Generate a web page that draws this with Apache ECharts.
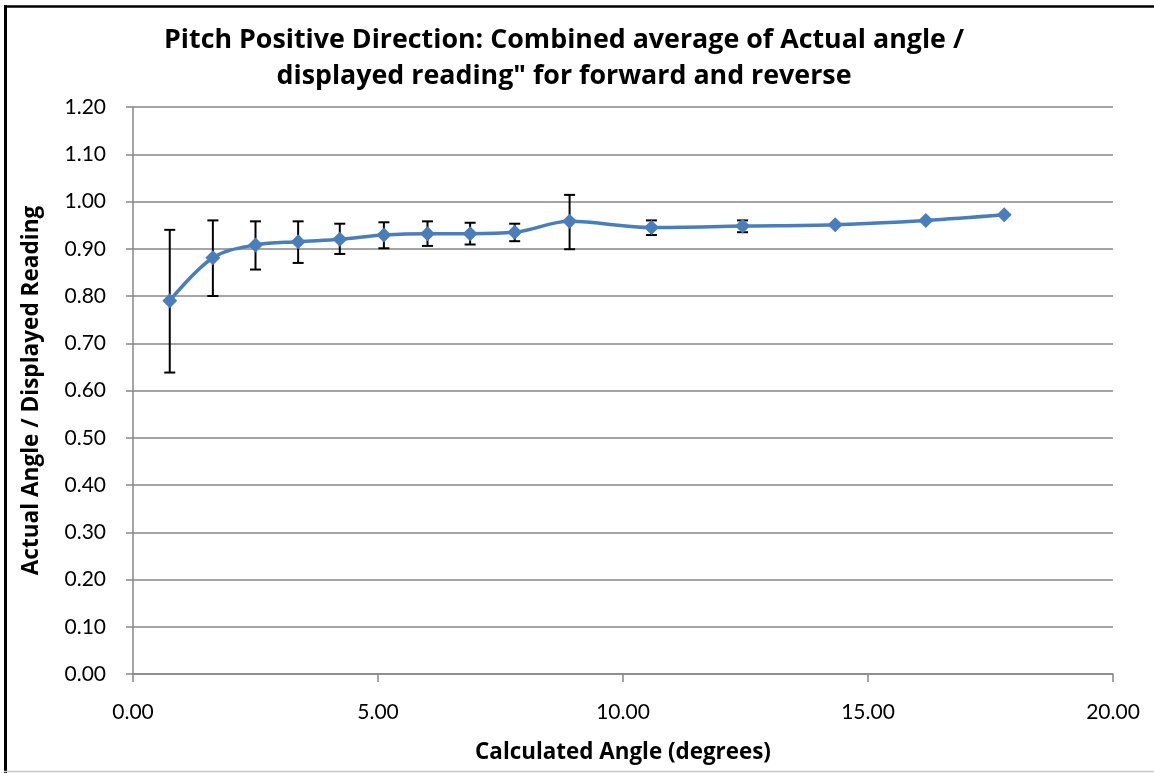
<!DOCTYPE html>
<html>
<head>
<meta charset="utf-8">
<script src="https://cdn.jsdelivr.net/npm/echarts@6/dist/echarts.min.js"></script>
<style>
  html, body { margin: 0; padding: 0; background: #ffffff; }
  #chart { width: 1154px; height: 773px; }
</style>
</head>
<body>
<div id="chart"></div>
<script>
// Calculated angle (degrees) for each measurement position
const calculatedAngle = [0.75, 1.63, 2.50, 3.37, 4.22, 5.12, 6.01, 6.88, 7.79, 8.91, 10.58, 12.44, 14.33, 16.18, 17.78];
// Combined average of actual angle / displayed reading
const ratioMean = [0.790, 0.881, 0.908, 0.915, 0.920, 0.929, 0.932, 0.932, 0.935, 0.958, 0.945, 0.948, 0.951, 0.960, 0.972];
// Error bar extents (null where no bar is drawn)
const ratioLow  = [0.638, 0.800, 0.856, 0.870, 0.889, 0.901, 0.906, 0.909, 0.916, 0.899, 0.929, 0.935, null, null, null];
const ratioHigh = [0.940, 0.960, 0.958, 0.958, 0.953, 0.956, 0.958, 0.955, 0.953, 1.014, 0.960, 0.960, null, null, null];

const titleLines = 'Pitch Positive Direction: Combined average of Actual angle /\ndisplayed reading" for forward and reverse';
const xAxisTitle = 'Calculated Angle (degrees)';
const yAxisTitle = 'Actual Angle / Displayed Reading';

const FONT = 'Lato, "Open Sans", sans-serif';
const BOLD_FONT = '"Open Sans", Lato, sans-serif';
const GRID_GRAY = '#878787';
const LINE_BLUE = '#4A7EBB';

const meanPoints = calculatedAngle.map((x, i) => [x, ratioMean[i]]);
const errorPoints = calculatedAngle
  .map((x, i) => [x, ratioLow[i], ratioHigh[i]])
  .filter(d => d[1] != null && d[2] != null);

const chart = echarts.init(document.getElementById('chart'), null, { renderer: 'canvas' });

chart.setOption({
  animation: false,
  backgroundColor: '#ffffff',
  title: {
    text: titleLines,
    left: 559,
    top: 17,
    textAlign: 'center',
    textStyle: {
      fontFamily: BOLD_FONT,
      fontWeight: 'bold',
      fontSize: 26.8,
      lineHeight: 36,
      color: '#000000'
    }
  },
  grid: { left: 133, right: 41, top: 107, bottom: 99 },
  xAxis: {
    type: 'value',
    min: 0,
    max: 20,
    interval: 5,
    name: xAxisTitle,
    nameLocation: 'middle',
    nameGap: 68,
    nameTextStyle: { fontFamily: BOLD_FONT, fontWeight: 'bold', fontSize: 22.4, color: '#000000' },
    axisLine: { show: true, lineStyle: { color: GRID_GRAY, width: 1.5 } },
    axisTick: { show: true, length: 8, lineStyle: { color: GRID_GRAY, width: 1.5 } },
    axisLabel: {
      margin: 28,
      fontFamily: FONT,
      fontSize: 21,
      color: '#000000',
      formatter: v => v.toFixed(2)
    },
    splitLine: { show: false }
  },
  yAxis: {
    type: 'value',
    min: 0,
    max: 1.2,
    interval: 0.1,
    name: yAxisTitle,
    nameLocation: 'middle',
    nameGap: 90,
    nameTextStyle: { fontFamily: BOLD_FONT, fontWeight: 'bold', fontSize: 22.6, color: '#000000' },
    axisLine: { show: true, lineStyle: { color: GRID_GRAY, width: 1.5 } },
    axisTick: { show: true, length: 7, lineStyle: { color: GRID_GRAY, width: 1.5 } },
    axisLabel: {
      margin: 27,
      fontFamily: FONT,
      fontSize: 21,
      color: '#000000',
      formatter: v => v.toFixed(2)
    },
    splitLine: { show: true, lineStyle: { color: GRID_GRAY, width: 1.5 } }
  },
  graphic: [
    // chart frame edges
    { type: 'line', silent: true, shape: { x1: 5.5, y1: 5, x2: 5.5, y2: 773 }, style: { stroke: '#000000', lineWidth: 3 } },
    { type: 'line', silent: true, shape: { x1: 4, y1: 6.5, x2: 1154, y2: 6.5 }, style: { stroke: '#000000', lineWidth: 2.5 } },
    { type: 'line', silent: true, shape: { x1: 4, y1: 771.5, x2: 1154, y2: 771.5 }, style: { stroke: '#c8c8c8', lineWidth: 1.5 } }
  ],
  series: [
    {
      name: 'error',
      type: 'custom',
      data: errorPoints,
      z: 3,
      renderItem: (params, api) => {
        const x = api.value(0);
        const lo = api.coord([x, api.value(1)]);
        const hi = api.coord([x, api.value(2)]);
        const half = 5.5;
        const style = { stroke: '#000000', lineWidth: 2 };
        return {
          type: 'group',
          children: [
            { type: 'line', shape: { x1: lo[0], y1: lo[1], x2: hi[0], y2: hi[1] }, style },
            { type: 'line', shape: { x1: hi[0] - half, y1: hi[1], x2: hi[0] + half, y2: hi[1] }, style },
            { type: 'line', shape: { x1: lo[0] - half, y1: lo[1], x2: lo[0] + half, y2: lo[1] }, style }
          ]
        };
      }
    },
    {
      name: 'ratio',
      type: 'line',
      data: meanPoints,
      smooth: 0.35,
      z: 4,
      symbol: 'diamond',
      symbolSize: 15,
      lineStyle: { color: LINE_BLUE, width: 3.5 },
      itemStyle: { color: LINE_BLUE }
    }
  ]
});
</script>
</body>
</html>
